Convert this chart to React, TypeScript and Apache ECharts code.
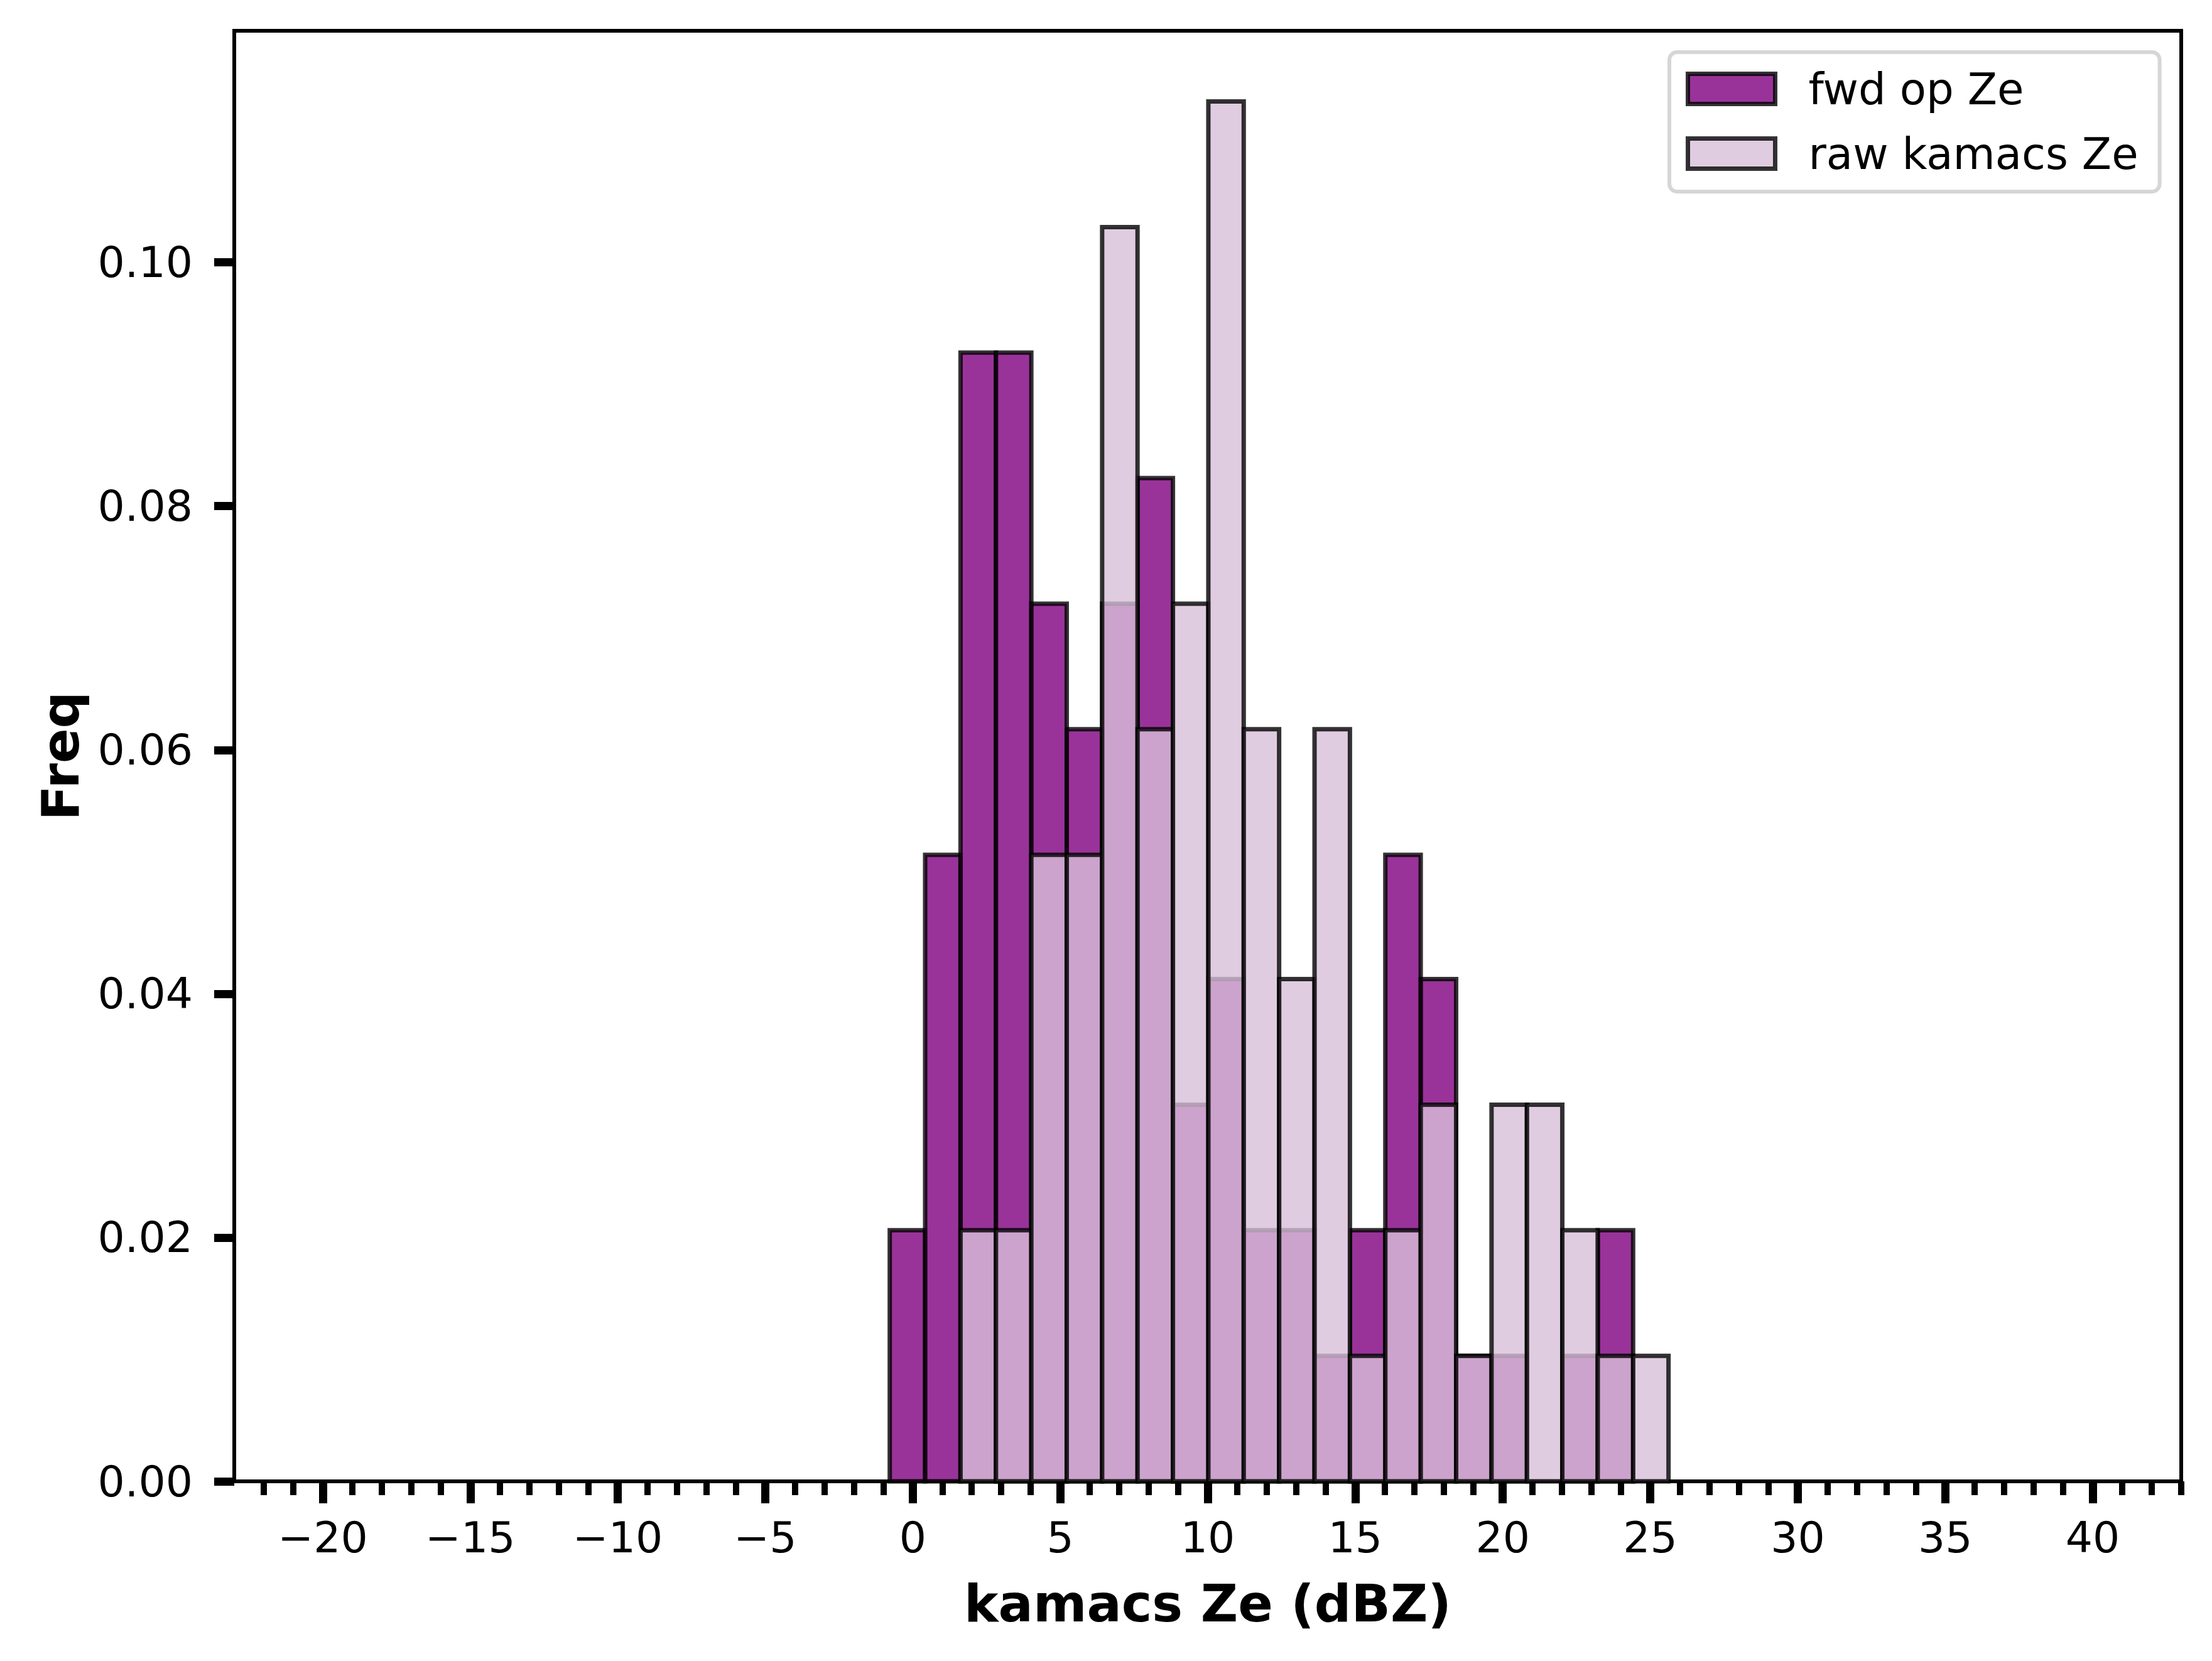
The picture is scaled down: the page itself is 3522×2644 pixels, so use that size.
import React, { useEffect, useRef } from 'react';
import * as echarts from 'echarts';

// histogram bin edges (dBZ)
const binEdges = [
  -0.78, 0.42, 1.62, 2.82, 4.02, 5.22, 6.42, 7.62, 8.82, 10.02, 11.22, 12.42,
  13.62, 14.82, 16.02, 17.22, 18.42, 19.62, 20.82, 22.02, 23.22, 24.42, 25.62,
];

// density per bin
const fwdOpZe = [
  0.0206, 0.0514, 0.0926, 0.0926, 0.0720, 0.0617, 0.0720, 0.0823, 0.0309, 0.0412, 0.0206,
  0.0206, 0.0103, 0.0206, 0.0514, 0.0412, 0.0103, 0.0103, 0, 0.0103, 0.0206, 0,
];
const rawKamacsZe = [
  0, 0, 0.0206, 0.0206, 0.0514, 0.0514, 0.1029, 0.0617, 0.0720, 0.1132, 0.0617,
  0.0412, 0.0617, 0.0103, 0.0206, 0.0309, 0.0103, 0.0309, 0.0309, 0.0206, 0.0103, 0.0103,
];

const xMajorTicks = [-20, -15, -10, -5, 0, 5, 10, 15, 20, 25, 30, 35, 40];
const yTicks = [0, 0.02, 0.04, 0.06, 0.08, 0.1];

const X_MIN = -23;
const X_MAX = 43;
const Y_MAX = 0.119;

const FONT = 'DejaVu Sans';
const FWD_COLOR = 'rgba(128,0,128,0.8)';
const RAW_COLOR = 'rgba(216,191,216,0.8)';
const EDGE_COLOR = 'rgba(0,0,0,0.8)';
const EDGE_W = 7;

const minorTicks: number[] = [];
for (let v = -22; v <= 43; v++) minorTicks.push(v);

const toRows = (vals: number[]) =>
  vals.map((v, i) => [binEdges[i], binEdges[i + 1], v]);

const histSeries = (name: string, vals: number[], color: string) => ({
  name,
  type: 'custom' as const,
  xAxisIndex: 0,
  yAxisIndex: 0,
  data: toRows(vals),
  encode: { x: [0, 1], y: 2 },
  itemStyle: { color, borderColor: EDGE_COLOR, borderWidth: EDGE_W },
  renderItem: (_params: any, api: any) => {
    const v = api.value(2);
    if (!v) return null;
    const p0 = api.coord([api.value(0), v]);
    const p1 = api.coord([api.value(1), 0]);
    return {
      type: 'rect',
      shape: { x: p0[0], y: p0[1], width: p1[0] - p0[0], height: p1[1] - p0[1] },
      style: { fill: color, stroke: EDGE_COLOR, lineWidth: EDGE_W },
    };
  },
});

const App: React.FC = () => {
  const chartRef = useRef<HTMLDivElement>(null);

  useEffect(() => {
    document.body.style.margin = '0';
    if (!chartRef.current) return;
    const chart = echarts.init(chartRef.current, undefined, { renderer: 'svg' });

    const minus = (v: number) => String(v).replace('-', '\u2212');

    const option: any = {
      animation: false,
      backgroundColor: '#ffffff',
      textStyle: { fontFamily: FONT },
      grid: {
        left: 373,
        right: 49,
        top: 49,
        bottom: 286,
        show: true,
        borderColor: '#000',
        borderWidth: 6,
        backgroundColor: 'transparent',
      },
      legend: {
        orient: 'vertical',
        left: 2658,
        top: 83,
        padding: [24, 34, 26, 26],
        itemGap: 34,
        itemWidth: 139,
        itemHeight: 48,
        icon: 'rect',
        borderColor: '#d6d6d6',
        borderWidth: 6,
        borderRadius: 12,
        backgroundColor: 'rgba(255,255,255,0.8)',
        textStyle: { fontFamily: FONT, fontSize: 69, color: '#000', padding: [0, 0, 0, 48] },
        data: [
          { name: 'fwd op Ze', itemStyle: { color: FWD_COLOR, borderColor: EDGE_COLOR, borderWidth: EDGE_W } },
          { name: 'raw kamacs Ze', itemStyle: { color: RAW_COLOR, borderColor: EDGE_COLOR, borderWidth: EDGE_W } },
        ],
      },
      xAxis: [
        {
          type: 'value',
          min: X_MIN,
          max: X_MAX,
          position: 'bottom',
          name: 'kamacs Ze (dBZ)',
          nameLocation: 'middle',
          nameGap: 153,
          nameTextStyle: { fontFamily: FONT, fontSize: 82, fontWeight: 'bold', color: '#000' },
          axisLine: { show: true, onZero: false, lineStyle: { color: '#000', width: 6 } },
          axisTick: { show: true, customValues: xMajorTicks, length: 35, lineStyle: { color: '#000', width: 13 } },
          axisLabel: {
            show: true,
            customValues: xMajorTicks,
            formatter: (v: number) => minus(v),
            fontFamily: FONT,
            fontSize: 68,
            color: '#000',
            margin: 55,
          },
          splitLine: { show: false },
        },
        {
          type: 'value',
          min: X_MIN,
          max: X_MAX,
          position: 'bottom',
          axisLine: { show: false, onZero: false },
          axisTick: { show: true, customValues: minorTicks, length: 22, lineStyle: { color: '#000', width: 10 } },
          axisLabel: { show: false },
          splitLine: { show: false },
        },
      ],
      yAxis: {
        type: 'value',
        min: 0,
        max: Y_MAX,
        position: 'left',
        name: 'Freq',
        nameLocation: 'middle',
        nameGap: 236,
        nameTextStyle: { fontFamily: FONT, fontSize: 82, fontWeight: 'bold', color: '#000' },
        axisLine: { show: true, onZero: false, lineStyle: { color: '#000', width: 6 } },
        axisTick: { show: true, customValues: yTicks, length: 32, lineStyle: { color: '#000', width: 13 } },
        axisLabel: {
          show: true,
          customValues: yTicks,
          formatter: (v: number) => v.toFixed(2),
          fontFamily: FONT,
          fontSize: 68,
          color: '#000',
          margin: 66,
        },
        splitLine: { show: false },
      },
      series: [
        histSeries('fwd op Ze', fwdOpZe, FWD_COLOR),
        histSeries('raw kamacs Ze', rawKamacsZe, RAW_COLOR),
      ],
    };

    chart.setOption(option);
    return () => chart.dispose();
  }, []);

  return <div ref={chartRef} style={{ width: 3522, height: 2644 }} />;
};

export default App;
